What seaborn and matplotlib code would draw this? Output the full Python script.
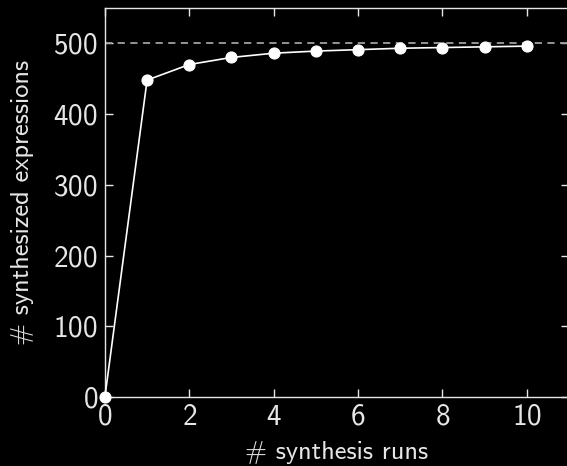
import numpy as np
import pandas as pd
import matplotlib
matplotlib.use("Agg")
import matplotlib.pyplot as plt
import seaborn as sns

# data
runs = [0, 1, 2, 3, 4, 5, 6, 7, 8, 9, 10]
synthesized = [0, 448, 470, 480, 486, 489, 491, 493, 494, 495, 496]
total_expr = 500

df = pd.DataFrame({"runs": runs, "synthesized": synthesized})

sns.set_style("ticks")
plt.rcParams['font.family'] = ['cmss10', 'DejaVu Sans']
plt.rcParams['axes.formatter.use_mathtext'] = True

fg = "#e6e6e6"
fig = plt.figure(figsize=(5.67, 4.66), dpi=100, facecolor="black")
ax = fig.add_axes([0.185, 0.148, 0.8185, 0.835], facecolor="black")

ax.axhline(total_expr, color="#a0a0a0", lw=1.3, ls=(0, (4, 3)), zorder=1)
sns.lineplot(data=df, x="runs", y="synthesized", ax=ax, color="white", lw=1.2,
             marker="o", markersize=8, markeredgecolor="white",
             markerfacecolor="white", clip_on=False, zorder=3)

ax.set_xlim(0, 11)
ax.set_ylim(0, 550)
ax.set_xticks([0, 2, 4, 6, 8, 10])
ax.set_yticks([0, 100, 200, 300, 400, 500])
ax.set_xlabel("# synthesis runs", fontsize=19, color=fg, labelpad=7)
ax.set_ylabel("# synthesized expressions", fontsize=19, color=fg, labelpad=14)

for s in ax.spines.values():
    s.set_visible(True)
    s.set_color(fg)
    s.set_linewidth(1.0)
ax.tick_params(direction="in", length=6, width=1.0, colors=fg, labelsize=21,
               top=True, right=True, pad=5)

fig.savefig("out.png", dpi=100, facecolor="black")
